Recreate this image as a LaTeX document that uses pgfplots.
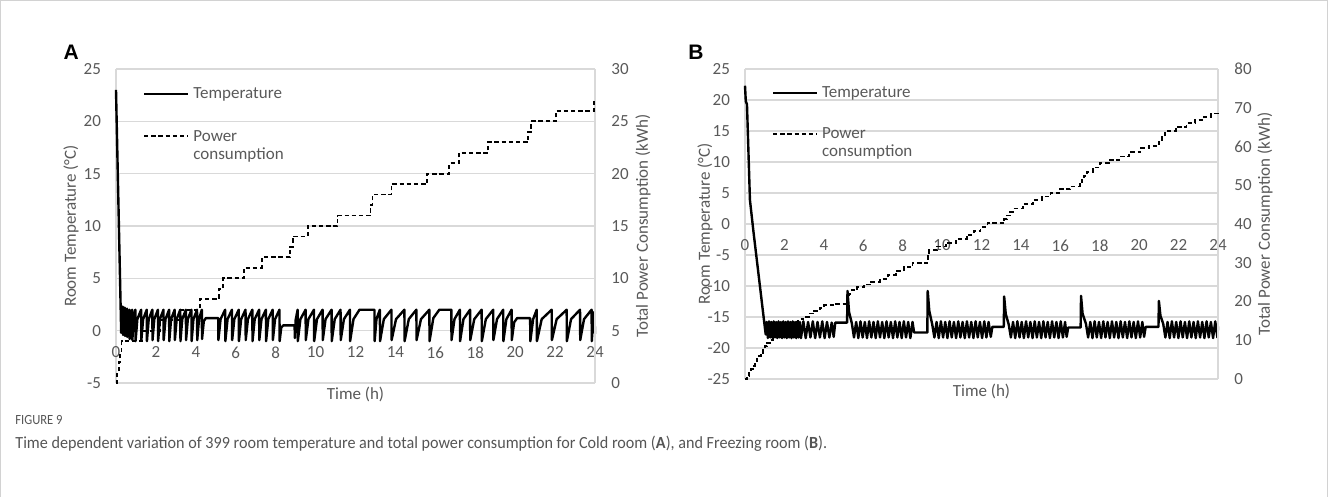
\documentclass[border=0pt]{standalone}
\usepackage{pgfplots}
\pgfplotsset{compat=1.18}
\usepackage{fontspec}
\setmainfont{Carlito}
\newfontfamily\capfont[FakeStretch=0.95]{Carlito}
\newfontfamily\capfontb[FakeStretch=0.9]{Carlito}
\newfontfamily\panelfont{Liberation Sans}
\definecolor{gridc}{HTML}{D9D9D9}
\definecolor{txt}{HTML}{595959}
\definecolor{capc}{HTML}{555555}

\tikzset{
  temp/.style={black, line width=1.2pt, line join=round},
  pow/.style={black, line width=0.9pt, dash pattern=on 2.2pt off 1.4pt},
  lab/.style={font=\fontsize{8.5}{10}\selectfont, text=txt},
}
\pgfplotsset{
  panel/.style={
    scale only axis, xmin=0, xmax=24, clip=false,
    tick label style={font=\fontsize{8.5}{10}\selectfont, text=txt},
    /pgf/number format/assume math mode=true,
    major tick length=0pt,
    tick style={draw=none},
    axis line style={draw=gridc, line width=0.7pt},
    every non boxed x axis/.append style={x axis line style=-},
    every non boxed y axis/.append style={y axis line style=-},
    x axis line style={-}, y axis line style={-},
  },
}

\begin{document}
\begin{tikzpicture}
\path[use as bounding box] (0,0) rectangle (664pt,248.5pt);
\draw[gray!35, line width=0.6pt] (0.3pt,0) -- (0.3pt,248.2pt) -- (663.7pt,248.2pt) -- (663.7pt,0);

% ---------------- Panel A ----------------
\begin{axis}[panel, at={(58pt,57pt)}, anchor=south west, width=239.5pt, height=157pt,
  ymin=-5, ymax=25, ytick={-5,0,...,25},
  axis x line=middle, axis y line=left,
  hide obscured x ticks=false,
  xtick={0,2,...,24},
  ymajorgrids, grid style={draw=gridc, line width=0.7pt},
  xticklabel style={yshift=-4.4pt},
  yticklabel style={xshift=-4pt},
  xlabel={Time (h)}, xlabel style={lab, at={(rel axis cs:0.5,-0.051)}, anchor=base},
  ylabel={Room Temperature (°C)}, ylabel style={lab, at={(rel axis cs:-0.094,0.5)}, anchor=center},
]
\addplot[temp] coordinates {
(0,23.0)(0.26,-0.2)(0.3,1.6)(0.34,2.3)(0.35,-0.4)(0.39,1.5)(0.44,2.2)(0.45,-0.5)(0.49,1.4)(0.55,2.1)(0.56,-0.6)(0.6,1.3)(0.67,2.0)(0.68,-0.8)(0.73,1.2)(0.81,2.0)(0.82,-0.9)(0.88,1.2)(0.97,2.0)(0.98,-1.0)
(1.07,1.1)(1.26,2.0)(1.27,-0.9)(1.36,1.1)(1.54,2.0)(1.55,-1.0)(1.64,1.1)(1.82,2.0)(1.83,-0.9)(1.92,1.1)(2.10,2.0)(2.11,-1.0)(2.20,1.1)(2.38,2.0)(2.39,-0.9)(2.48,1.1)(2.66,2.0)(2.67,-1.0)(2.76,1.1)(2.94,2.0)(2.95,-0.9)(3.04,1.1)(3.22,2.0)(3.23,-1.0)(3.32,1.1)(3.50,2.0)(3.51,-0.9)(3.60,1.1)(3.78,2.0)(3.79,-1.0)(3.88,1.1)(4.06,2.0)(4.07,-0.9)(4.16,1.1)(4.30,2.0)(4.31,-0.8)(4.4,0.9)(4.5,1.2)(5.12,1.2)(5.13,-0.9)
(5.24,1.1)(5.47,2.0)(5.48,-1.0)(5.59,1.1)(5.81,2.0)(5.82,-0.9)(5.93,1.1)(6.15,2.0)(6.16,-1.0)(6.27,1.1)(6.49,2.0)(6.50,-0.9)(6.61,1.1)(6.83,2.0)(6.84,-1.0)(6.95,1.1)(7.17,2.0)(7.18,-0.9)(7.29,1.1)(7.51,2.0)(7.52,-1.0)(7.63,1.1)(7.85,2.0)(7.86,-0.9)(7.97,1.1)(8.19,2.0)(8.20,-1.0)(8.28,0.3)(8.38,0.5)(8.95,0.5)(8.96,-0.7)
(9.0,1.0)(9.1,2.0)(9.11,-1.0)(9.24,1.1)(9.5,2.0)(9.51,-0.9)(9.64,1.1)(9.92,2.0)(9.93,-1.0)(10.07,1.1)(10.35,2.0)(10.36,-0.9)(10.5,1.1)(10.8,2.0)(10.81,-1.0)(10.96,1.1)(11.25,2.0)(11.26,-0.9)(11.42,1.1)(11.72,2.0)(11.73,-1.0)(11.9,1.1)(12.2,2.0)(12.95,2.0)(12.96,-1.0)
(13.05,1.1)(13.22,2.0)(13.23,-1.0)(13.42,1.1)(13.8,2.0)(13.81,-0.9)(14.03,1.1)(14.45,2.0)(14.46,-1.0)(14.67,1.1)(15.05,2.0)(15.06,-0.9)(15.28,1.1)(15.7,2.0)(15.71,-1.0)(15.9,1.2)(16.2,2.0)(16.8,2.0)(16.81,-0.9)
(16.96,1.1)(17.23,2.0)(17.24,-1.0)(17.41,1.1)(17.74,2.0)(17.75,-0.9)(17.95,1.1)(18.32,2.0)(18.33,-1.0)(18.53,1.1)(18.9,2.0)(18.91,-0.9)(19.09,1.1)(19.4,2.0)(19.41,-1.0)(19.56,1.1)(19.82,2.0)(19.83,-0.9)(19.95,0.8)(20.1,1.2)(20.75,1.2)(20.76,-1.0)
(20.9,1.1)(21.08,2.0)(21.09,-1.0)(21.33,1.1)(21.83,2.0)(21.84,-0.9)(22.08,1.1)(22.58,2.0)(22.59,-1.0)(22.8,1.1)(23.25,2.0)(23.26,-0.9)(23.45,1.1)(23.83,2.0)(23.84,-1.0)(23.9,0.9)(23.97,1.8)(24.0,-0.3)
};
\end{axis}
\begin{axis}[panel, at={(58pt,57pt)}, anchor=south west, width=239.5pt, height=157pt,
  ymin=0, ymax=30, ytick={0,5,...,30},
  axis x line=none, axis y line=right,
  yticklabel style={xshift=4.7pt},
  ylabel={Total Power Consumption (kWh)}, ylabel style={lab, at={(rel axis cs:1.1002,0.5)}, anchor=center},
]
\addplot[pow, const plot] coordinates {
(0,0)(0.07,1)(0.14,2)(0.21,3)(0.28,4)(1.29,5)(2.2,6)(3.2,7)(4.2,8)(5.15,9)(5.35,10)(6.4,11)(7.3,12)(8.7,13)(8.85,14)(9.6,15)(11.1,16)(12.75,17)(12.85,18)(13.8,19)(15.6,20)(16.7,21)(17.2,22)(18.65,23)(20.65,24)(20.8,25)(22.05,26)(23.95,27)(24,27)
};
\end{axis}

% ---------------- Panel B ----------------
\begin{axis}[panel, at={(372.5pt,59pt)}, anchor=south west, width=236.5pt, height=155pt,
  ymin=-25, ymax=25, ytick={-25,-20,...,25},
  axis x line=middle, axis y line=left,
  hide obscured x ticks=false,
  xtick={0,2,...,24},
  ymajorgrids, grid style={draw=gridc, line width=0.7pt},
  xticklabel style={yshift=-4.4pt},
  yticklabel style={xshift=-4pt},
  xlabel={Time (h)}, xlabel style={lab, at={(rel axis cs:0.5,-0.057)}, anchor=base},
  ylabel={Room Temperature (°C)}, ylabel style={lab, at={(rel axis cs:-0.0846,0.5)}, anchor=center},
]
\addplot[temp] coordinates {
(0,22.3)(0.04,19.8)(0.1,19.3)(0.25,3.9)(0.42,-1.0)(1.0,-16.5)(1.05,-17.8)
(1.10,-15.8)(1.16,-18.4)(1.22,-15.7)(1.28,-18.3)(1.34,-15.8)(1.40,-18.4)(1.46,-15.7)(1.52,-18.3)(1.58,-15.8)(1.64,-18.4)(1.70,-15.7)(1.76,-18.3)(1.82,-15.8)(1.88,-18.4)(1.94,-15.7)(2.00,-18.3)(2.06,-15.8)(2.12,-18.4)(2.18,-15.7)(2.24,-18.3)(2.30,-15.8)(2.36,-18.4)(2.42,-15.7)(2.48,-18.3)(2.54,-15.8)(2.60,-18.4)(2.66,-15.7)(2.72,-18.3)(2.78,-15.8)(2.84,-18.4)
(2.96,-15.7)(3.08,-18.4)(3.20,-15.8)(3.32,-18.3)(3.44,-15.7)(3.56,-18.4)(3.68,-15.8)(3.80,-18.3)(3.92,-15.7)(4.04,-18.4)(4.16,-15.8)(4.28,-18.3)(4.40,-15.9)(4.50,-18.2)(4.58,-15.9)(5.18,-15.9)(5.2,-10.8)(5.28,-14.2)(5.42,-16.0)
(5.53,-18.3)(5.64,-15.8)(5.75,-18.4)(5.86,-15.7)(5.97,-18.3)(6.08,-15.8)(6.19,-18.4)(6.30,-15.7)(6.41,-18.3)(6.52,-15.8)(6.63,-18.4)(6.74,-15.7)(6.85,-18.3)(6.96,-15.8)(7.07,-18.4)(7.18,-15.7)(7.29,-18.3)(7.40,-15.8)(7.51,-18.4)(7.62,-15.7)(7.73,-18.3)(7.84,-15.8)(7.95,-18.4)(8.06,-15.7)(8.17,-18.3)(8.28,-15.8)(8.39,-18.4)(8.50,-15.8)(8.58,-17.5)(9.25,-17.5)(9.27,-10.8)(9.35,-14.0)(9.5,-16.2)
(9.61,-18.3)(9.72,-15.8)(9.83,-18.4)(9.94,-15.7)(10.05,-18.3)(10.16,-15.8)(10.27,-18.4)(10.38,-15.7)(10.49,-18.3)(10.60,-15.8)(10.71,-18.4)(10.82,-15.7)(10.93,-18.3)(11.04,-15.8)(11.15,-18.4)(11.26,-15.7)(11.37,-18.3)(11.48,-15.8)(11.59,-18.4)(11.70,-15.7)(11.81,-18.3)(11.92,-15.8)(12.03,-18.4)(12.14,-15.7)(12.25,-18.3)(12.36,-15.8)(12.47,-18.2)(12.55,-16.6)(13.13,-16.6)(13.15,-11.7)(13.23,-14.5)(13.38,-16.2)
(13.49,-18.3)(13.60,-15.8)(13.71,-18.4)(13.82,-15.7)(13.93,-18.3)(14.04,-15.8)(14.15,-18.4)(14.26,-15.7)(14.37,-18.3)(14.48,-15.8)(14.59,-18.4)(14.70,-15.7)(14.81,-18.3)(14.92,-15.8)(15.03,-18.4)(15.14,-15.7)(15.25,-18.3)(15.36,-15.8)(15.47,-18.4)(15.58,-15.7)(15.69,-18.3)(15.80,-15.8)(15.91,-18.4)(16.02,-15.7)(16.13,-18.3)(16.24,-15.8)(16.32,-18.2)(16.40,-16.7)(17.03,-16.7)(17.05,-11.6)(17.13,-14.5)(17.3,-16.1)
(17.41,-18.3)(17.52,-15.8)(17.63,-18.4)(17.74,-15.7)(17.85,-18.3)(17.96,-15.8)(18.07,-18.4)(18.18,-15.7)(18.29,-18.3)(18.40,-15.8)(18.51,-18.4)(18.62,-15.7)(18.73,-18.3)(18.84,-15.8)(18.95,-18.4)(19.06,-15.7)(19.17,-18.3)(19.28,-15.8)(19.39,-18.4)(19.50,-15.7)(19.61,-18.3)(19.72,-15.8)(19.83,-18.4)(19.94,-15.7)(20.05,-18.3)(20.16,-15.8)(20.25,-18.2)(20.33,-16.6)(20.98,-16.6)(21.0,-12.4)(21.08,-14.8)(21.22,-16.1)
(21.33,-18.3)(21.44,-15.8)(21.55,-18.4)(21.66,-15.7)(21.77,-18.3)(21.88,-15.8)(21.99,-18.4)(22.10,-15.7)(22.21,-18.3)(22.32,-15.8)(22.43,-18.4)(22.54,-15.7)(22.65,-18.3)(22.76,-15.8)(22.87,-18.4)(22.98,-15.7)(23.09,-18.3)(23.20,-15.8)(23.31,-18.4)(23.42,-15.7)(23.53,-18.3)(23.64,-15.8)(23.75,-18.4)(23.86,-15.7)(23.97,-18.3)(24.0,-16.5)
};
\end{axis}
\begin{axis}[panel, at={(372.5pt,59pt)}, anchor=south west, width=236.5pt, height=155pt,
  ymin=0, ymax=80, ytick={0,10,...,80},
  axis x line=none, axis y line=right,
  yticklabel style={xshift=4.7pt},
  ylabel={Total Power Consumption (kWh)}, ylabel style={lab, at={(rel axis cs:1.0994,0.5)}, anchor=center},
]
\addplot[pow, const plot] coordinates {
(0,0)(0.1,0.85)(0.2,1.7)(0.3,2.55)(0.4,3.4)(0.5,4.25)(0.6,5.1)(0.7,5.95)(0.8,6.8)(0.9,7.6)(1.0,8.5)(1.1,9.3)(1.25,10.1)(1.44,10.9)(1.7,11.9)(1.95,12.9)(2.2,13.8)(2.45,14.6)(2.7,15.4)(2.96,16.1)(3.25,16.9)(3.5,17.6)(3.8,18.3)(4.0,19.0)(4.6,19.4)
(5.22,20.8)(5.27,22.0)(5.4,22.9)(5.7,23.7)(6.05,24.4)(6.4,25.1)(6.85,25.8)(7.25,26.8)(7.65,27.8)(8.05,28.8)(8.5,29.9)(9.25,30.6)(9.3,32.0)(9.35,33.3)(9.75,34.2)(10.2,35.1)(10.7,36.1)(11.25,37.2)(11.6,38.2)(11.95,39.2)(12.3,40.2)
(13.15,41.2)(13.3,42.2)(13.45,43.1)(13.6,44.0)(14.1,45.1)(14.6,46.2)(15.05,47.1)(15.5,48.0)(16.0,49.0)(16.5,49.7)(17.0,50.3)(17.1,51.3)(17.2,52.4)(17.35,53.5)(17.65,54.6)(18.0,55.7)(18.5,56.5)(19.0,57.4)(19.5,58.5)(20.05,59.6)(20.5,60.1)
(21.0,61.2)(21.15,62.5)(21.3,63.9)(21.85,65.0)(22.4,66.0)(22.85,66.9)(23.3,67.7)(23.65,68.5)(24.0,69.3)
};
\end{axis}

% legends
\draw[temp] (72pt,201.5pt) -- (94pt,201.5pt);
\node[lab, anchor=base west, inner sep=0pt] at (96.5pt,199.35pt) {Temperature};
\draw[pow] (72pt,180.5pt) -- (94pt,180.5pt);
\node[lab, anchor=base west, inner sep=0pt] at (96.5pt,177.85pt) {Power};
\node[lab, anchor=base west, inner sep=0pt] at (96.5pt,168.85pt) {consumption};

\draw[temp] (386.5pt,202pt) -- (408.5pt,202pt);
\node[lab, anchor=base west, inner sep=0pt] at (410.85pt,199.65pt) {Temperature};
\draw[pow] (386.5pt,181.35pt) -- (408.5pt,181.35pt);
\node[lab, anchor=base west, inner sep=0pt] at (410.85pt,179pt) {Power};
\node[lab, anchor=base west, inner sep=0pt] at (410.85pt,170.15pt) {consumption};

% panel letters
\node[anchor=base, inner sep=0pt, font=\panelfont\bfseries\fontsize{10.5}{12}\selectfont] at (35.6pt,218.85pt) {A};
\node[anchor=base, inner sep=0pt, font=\panelfont\bfseries\fontsize{10.5}{12}\selectfont] at (348pt,218.85pt) {B};

% caption
\node[anchor=base west, inner sep=0pt, text=capc, font=\capfontb\fontsize{7}{8}\selectfont] at (7.5pt,36pt) {FIGURE 9};
\node[anchor=base west, inner sep=0pt, text=capc, font=\capfont\fontsize{8.5}{10}\selectfont] at (7.5pt,24pt) {Time dependent variation of 399 room temperature and total power consumption for Cold room (\textbf{A}), and Freezing room (\textbf{B}).};
\end{tikzpicture}
\end{document}
